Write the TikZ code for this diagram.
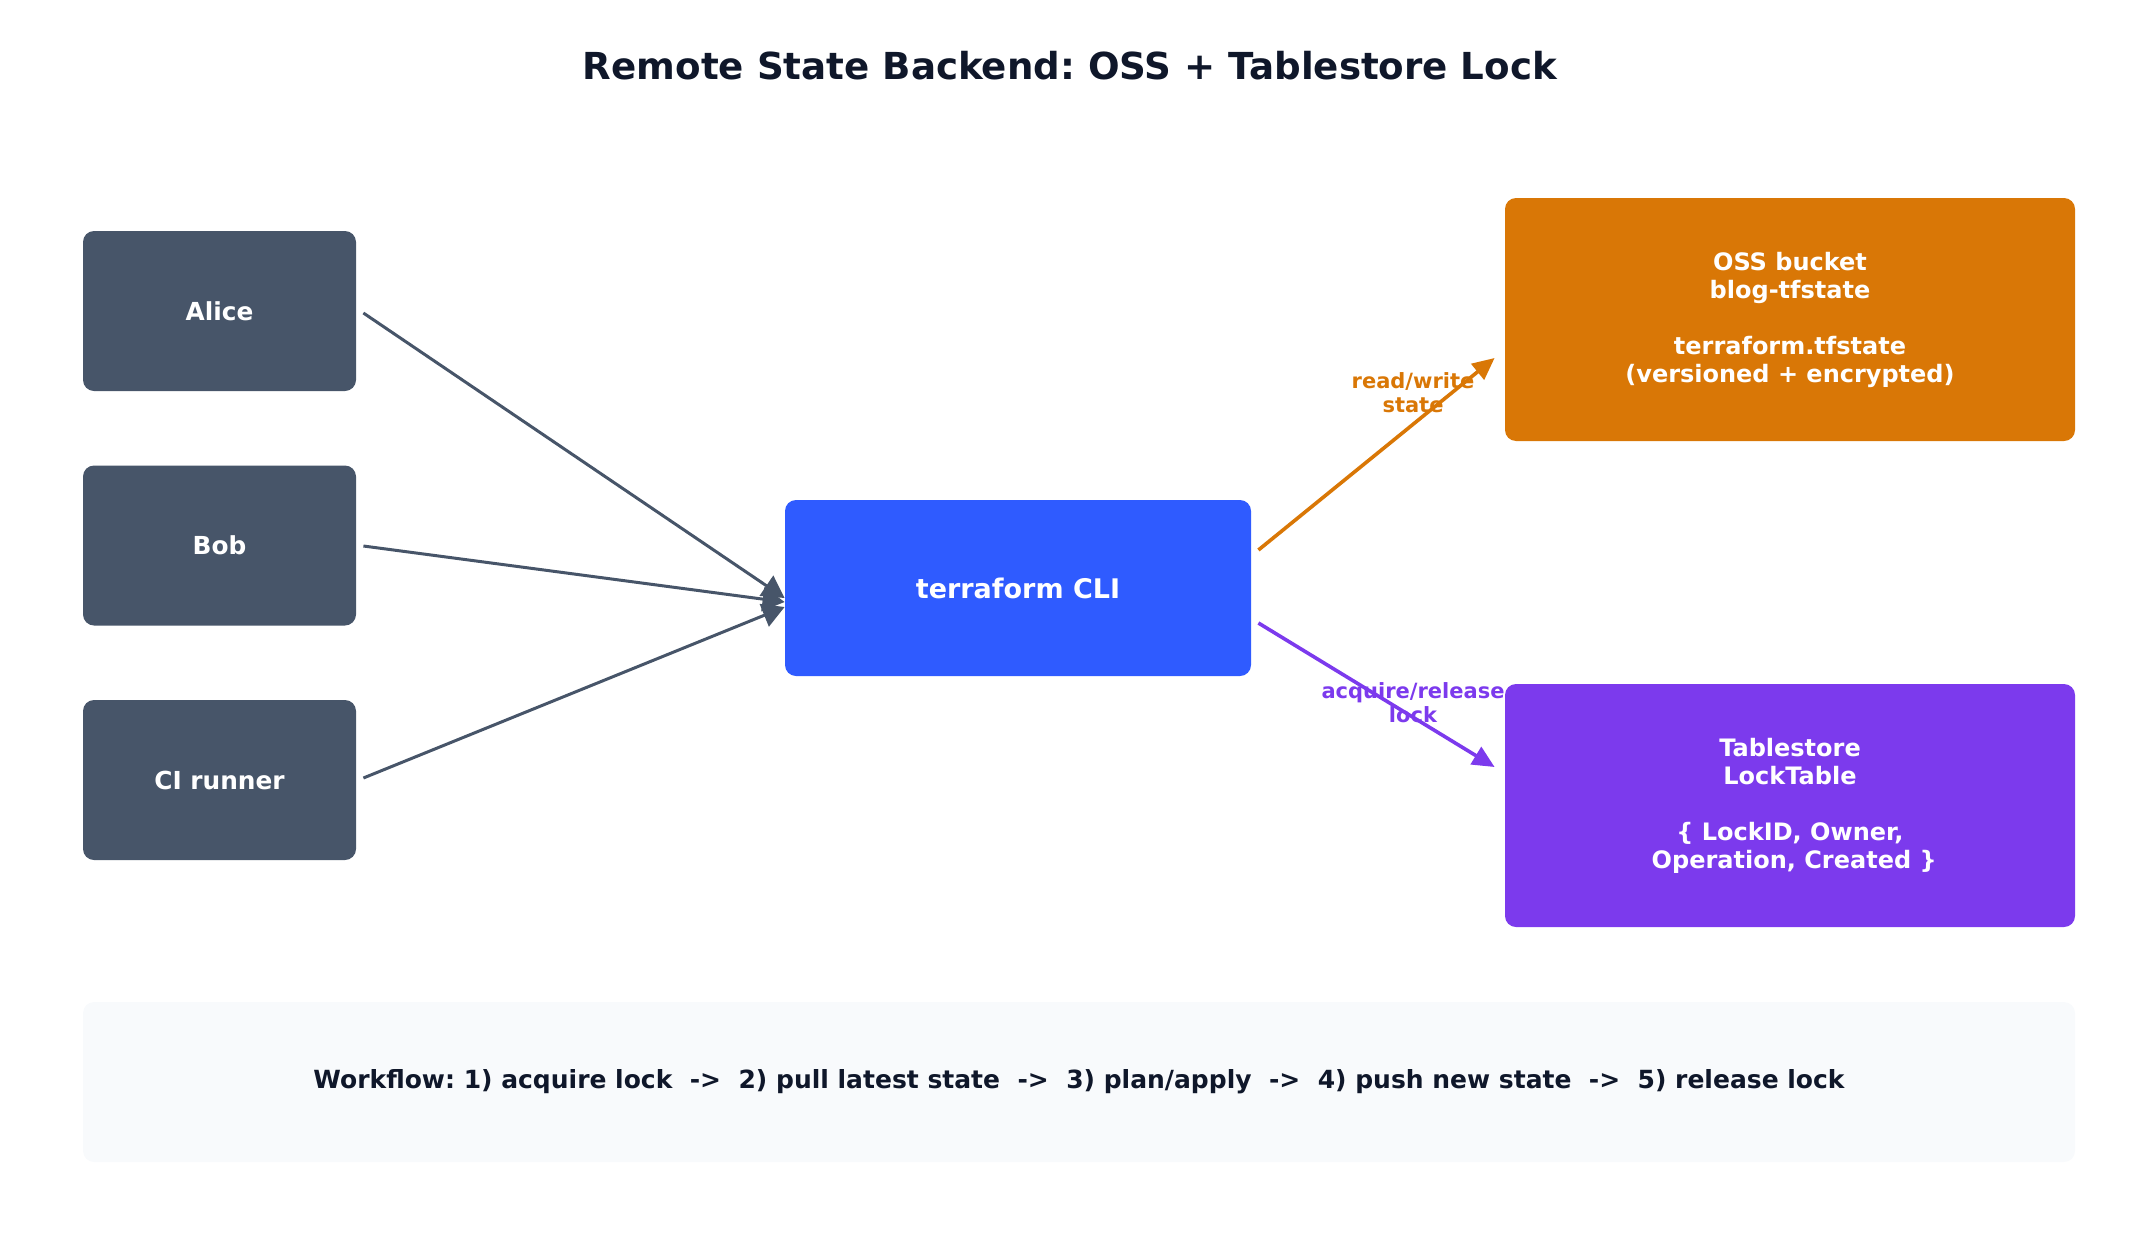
\documentclass[tikz,border=0pt]{standalone}
\usepackage{fontspec}
\setmainfont{DejaVu Sans}
\usepackage{xcolor}
\usetikzlibrary{positioning,arrows.meta,calc}
\frenchspacing

\definecolor{slate}{HTML}{475569}
\definecolor{ink}{HTML}{0F172A}
\definecolor{cliblue}{HTML}{2F5BFF}
\definecolor{ossorange}{HTML}{D97706}
\definecolor{lockpurple}{HTML}{7C3AED}
\definecolor{flowbg}{HTML}{F8FAFC}

\begin{document}
\begin{tikzpicture}[
      x=0.5pt, y=-0.5pt,
      font=\bfseries,
      box/.style={rounded corners=5.5pt, align=center, text=white, inner sep=4pt},
      user/.style={box, fill=slate, minimum width=136.5pt, minimum height=80pt, font=\bfseries\fontsize{12.4}{14.5}\selectfont},
      cli/.style={box, fill=cliblue, minimum width=233pt, minimum height=88pt, font=\bfseries\fontsize{13.5}{16}\selectfont},
      store/.style={box, minimum width=285pt, minimum height=121.5pt, font=\bfseries\fontsize{12}{14}\selectfont},
      lbl/.style={align=center, font=\bfseries\fontsize{10.5}{12}\selectfont},
      arr/.style={-{Triangle[length=11pt, width=12pt]}, line width=1.5pt, draw=slate},
      sarr/.style={-{Triangle[length=11pt, width=10pt]}, line width=1.8pt}
    ]
    \useasboundingbox (0,0) rectangle (2141,1242);
    % title
    \node[text=ink, font=\bfseries\fontsize{18.6}{22}\selectfont] (title) at (1070,66) {Remote State Backend: OSS + Tablestore Lock};
    % users
    \node[user] (alice) at (219.5,311) {Alice};
    \node[user] (bob) at (219.5,545.5) {Bob};
    \node[user] (ci) at (219.5,780) {CI runner};
    % cli
    \node[cli] (tfcli) at (1018,588) {terraform CLI};
    % backends
    \node[store, fill=ossorange] (oss) at (1790,319.5) {OSS bucket\\blog-tfstate\\[14pt]terraform.tfstate\\(versioned + encrypted)};
    \node[store, fill=lockpurple] (lock) at (1790,805.5) {Tablestore\\LockTable\\[14pt]\{ LockID, Owner,\\\mbox{}\ Operation, Created \}};
    % workflow
    \node[fill=flowbg, rounded corners=5.5pt, minimum width=996pt, minimum height=80pt, text=ink, font=\bfseries\fontsize{12.5}{15}\selectfont] (flow) at (1079,1082)
      {Workflow: 1) acquire lock\ \ ->\ \ 2) pull latest state\ \ ->\ \ 3) plan/apply\ \ ->\ \ 4) push new state\ \ ->\ \ 5) release lock};
    % edges
    \draw[arr] ($(alice.east)+(7,2)$) -- ($(tfcli.west)+(0,10)$);
    \draw[arr] ($(bob.east)+(7,0.5)$) -- ($(tfcli.west)+(0,14)$);
    \draw[arr] ($(ci.east)+(7,-2)$) -- ($(tfcli.west)+(0,19)$);
    \draw[sarr, draw=ossorange] ($(tfcli.east)+(7,-38)$) -- ($(oss.west)+(-10,38.5)$);
    \draw[sarr, draw=lockpurple] ($(tfcli.east)+(7,35)$) -- ($(lock.west)+(-10,-38.5)$);
    \node[lbl, text=ossorange] (rwlbl) at (1413,393) {read/write\\state};
    \node[lbl, text=lockpurple] (acqlbl) at (1413,703) {acquire/release\\lock};
  \end{tikzpicture}
\end{document}
